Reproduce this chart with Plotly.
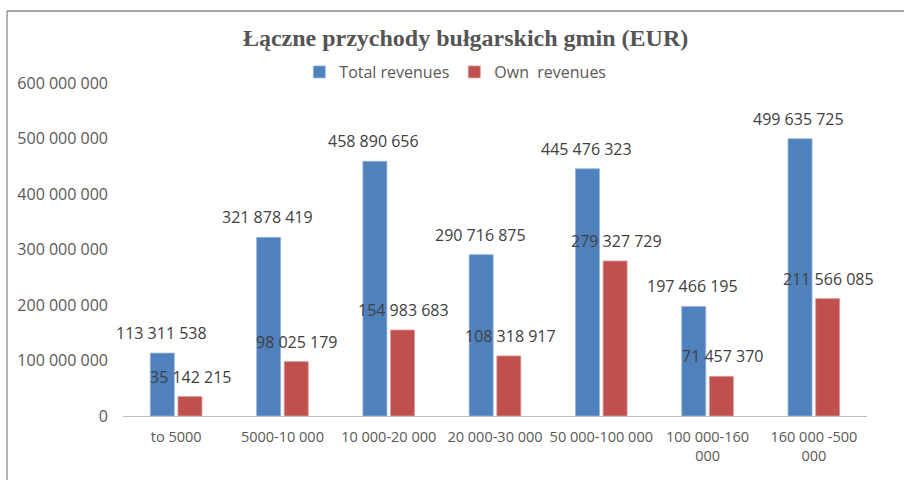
import plotly.graph_objects as go

categories = ["to 5000", "5000-10 000", "10 000-20 000", "20 000-30 000",
              "50 000-100 000", "100 000-160<br>000", "160 000 -500<br>000"]
total_revenues = [113311538, 321878419, 458890656, 290716875, 445476323, 197466195, 499635725]
own_revenues = [35142215, 98025179, 154983683, 108318917, 279327729, 71457370, 211566085]
y_ticks = [0, 100000000, 200000000, 300000000, 400000000, 500000000, 600000000]


def fmt(v):
    return f"{v:,}".replace(",", " ")


BLUE = "#4F81BD"
RED = "#C0504D"
FONT = "Open Sans"

fig = go.Figure()
fig.add_trace(go.Bar(x=categories, y=total_revenues, name="Total revenues",
                     marker=dict(color=BLUE, line=dict(width=0.8, color="#9bb5d8"))))
fig.add_trace(go.Bar(x=categories, y=own_revenues, name="Own\u00a0 revenues",
                     marker=dict(color=RED, line=dict(width=0.8, color="#dba09e"))))

annotations = []
for series, shift in ((total_revenues, -15), (own_revenues, 15)):
    for c, v in zip(categories, series):
        annotations.append(dict(x=c, y=v, xref="x", yref="y", text=fmt(v),
                                showarrow=False, xshift=shift, yshift=7,
                                yanchor="bottom", xanchor="center",
                                font=dict(family=FONT, size=16, color="#404040")))

# chart frame (top and left edges)
shapes = [
    dict(type="line", xref="paper", yref="paper", x0=-0.1559, x1=1.06, y0=1.2162, y1=1.2162,
         line=dict(color="#8a8a8a", width=1.3)),
    dict(type="line", xref="paper", yref="paper", x0=-0.1559, x1=-0.1559, y0=1.2162, y1=-0.21,
         line=dict(color="#8a8a8a", width=1.3)),
]

fig.update_layout(
    width=904, height=480,
    margin=dict(l=123, r=37, t=83, b=64, autoexpand=False),
    paper_bgcolor="white", plot_bgcolor="white",
    barmode="group", bargap=0.48, bargroupgap=0.13,
    title=dict(text="<b>Łączne przychody bułgarskich gmin (EUR)</b>",
               x=0.515, xanchor="center", y=1 - 38 / 480, yanchor="middle",
               font=dict(family="Liberation Serif", size=24, color="#555555")),
    legend=dict(orientation="h", x=0.237, xanchor="left", y=1.033, yanchor="middle",
                font=dict(family=FONT, size=16, color="#595959"),
                bgcolor="rgba(0,0,0,0)", itemwidth=30, tracegroupgap=0),
    font=dict(family=FONT, size=15, color="#595959"),
    annotations=annotations,
    shapes=shapes,
    xaxis=dict(range=[-0.5, len(categories) - 0.5], autorange=False,
               showline=True, linecolor="#BFBFBF", linewidth=1, ticks="",
               showgrid=False, tickfont=dict(family=FONT, size=14.5, color="#595959"),
               ticklabelstandoff=8, automargin=False),
    yaxis=dict(range=[0, 600000000], tickvals=y_ticks, ticktext=[fmt(t) for t in y_ticks],
               showgrid=False, zeroline=False, showline=False, ticks="",
               tickfont=dict(family=FONT, size=16, color="#595959"),
               ticklabelstandoff=14, automargin=False),
)

fig.write_html("out.html", config={"displayModeBar": False},
               post_script="document.body.style.margin='0';document.body.style.overflow='hidden';")
